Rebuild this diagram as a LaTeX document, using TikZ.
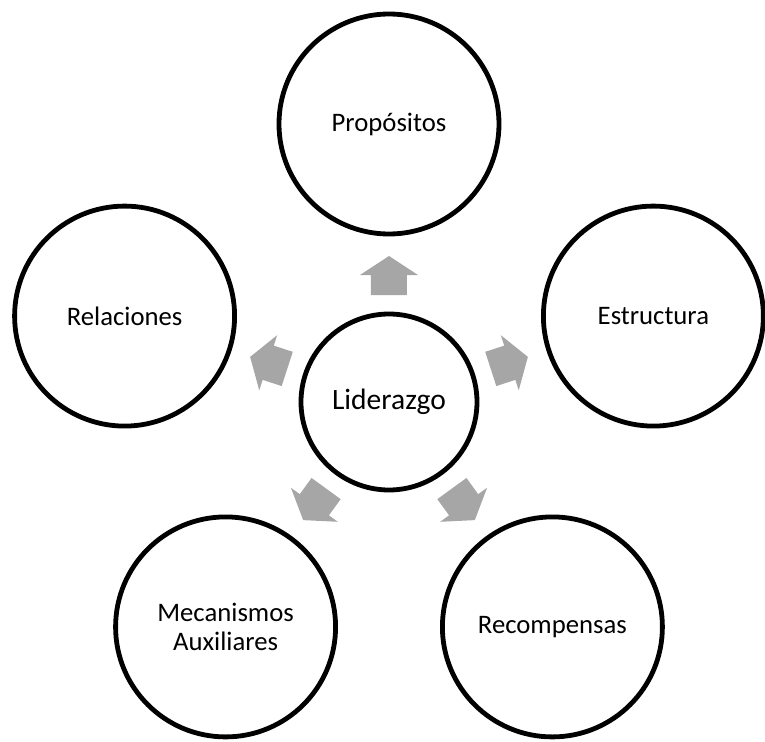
\documentclass[tikz,border=0pt]{standalone}
\usepackage{fontspec}
\setmainfont{Carlito}
\usetikzlibrary{positioning}
\definecolor{grisflecha}{HTML}{A6A6A6}
\tikzstyle{area} = [circle, draw=black, line width=0.12cm, minimum size=5.5cm, align=center,
                    font=\fontsize{19}{20.5}\selectfont]
\tikzstyle{centro} = [circle, draw=black, line width=0.12cm, minimum size=4.4cm,
                      font=\fontsize{21}{24}\selectfont]
\tikzstyle{flecha} = [fill=grisflecha, draw=none]

\begin{document}
\begin{tikzpicture}
	\useasboundingbox (-9.725, -8.5) rectangle (9.4, 10.05);

	\node (Liderazgo) [centro] at (0, 0) {Liderazgo};

	% outer circles
	\node (Propositos) [area] at (90:6.95) {Propósitos};
	\node (Estructura) [area] at (18:6.95) {Estructura};
	\node (Relaciones) [area] at (162:6.95) {Relaciones};
	\node (Recompensas) [area] at (-54:6.95) {Recompensas};
	\node (Mecanismos) [area] at (-126:6.95) {Mecanismos\\Auxiliares};

	% arrows
	\foreach \ang in {90, 18, 162, -54, -126}
		\fill[flecha, rotate=\ang] (2.675, -0.45) -- (3.175, -0.45) -- (3.175, -0.725) -- (3.65, 0)
			-- (3.175, 0.725) -- (3.175, 0.45) -- (2.675, 0.45) -- cycle;
\end{tikzpicture}
\end{document}
